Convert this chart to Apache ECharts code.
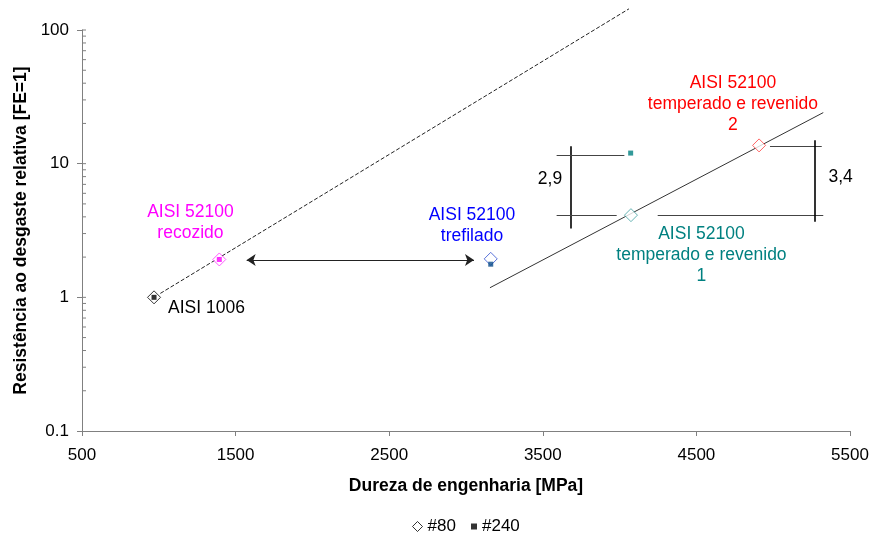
<!DOCTYPE html>
<html>
<head>
<meta charset="utf-8">
<script src="https://cdn.jsdelivr.net/npm/echarts@6/dist/echarts.min.js"></script>
<style>
  html, body { margin: 0; padding: 0; background: #fff; }
  #chart { width: 873px; height: 538px; }
</style>
</head>
<body>
<div id="chart"></div>
<script>
// valores
var hardness80 = [969, 1394, 3161, 4074, 4908];
var resist80 = [1.0, 1.92, 1.94, 4.12, 13.7];
var hardness240 = [969, 1394, 3161, 4072];
var resist240 = [1.0, 1.92, 1.77, 12.0];

// retas de tendência
var dashedFitX = [1010, 4061];
var dashedFitY = [1.07, 144];
var solidFitX = [3156, 5326];
var solidFitY = [1.18, 24.1];

// eixos
var xTicks = [500, 1500, 2500, 3500, 4500, 5500];
var yInnerTicks = [0.2, 0.3, 0.4, 0.5, 0.6, 0.7, 0.8, 0.9, 1,
  2, 3, 4, 5, 6, 7, 8, 9, 10, 20, 30, 40, 50, 60, 70, 80, 90, 100];

// cotas (2,9 e 3,4) e seta
var bracketX = [[3682, 3682], [3590, 4031], [3590, 3981], [4248, 5326], [4979, 5316], [5268, 5268]];
var bracketY = [[13.5, 3.28], [11.5, 11.5], [4.10, 4.10], [4.10, 4.10], [13.5, 13.5], [15.0, 3.67]];
var arrowX = [1572, 3052];
var arrowY = [1.90, 1.90];

// textos
var noteText = ['AISI 1006', 'AISI 52100\nrecozido', 'AISI 52100\ntrefilado',
  'AISI 52100\ntemperado e revenido\n1', 'AISI 52100\ntemperado e revenido\n2', '2,9', '3,4'];
var noteX = [1060, 1206, 3039, 4533, 4738, 3547, 5439];
var noteY = [0.836, 3.65, 3.44, 2.08, 27.8, 7.66, 7.93];

var noteColors = ['#000000', '#ff00ff', '#0000ff', '#008080', '#ff0000', '#000000', '#000000'];
var diamondColors = ['#000000', '#ff33ff', '#2f4fd0', '#40a0a0', '#ff4040'];
var squareColors = ['#000000', '#ff00ff', '#0b4c8a', '#008080'];

var FONT = '"Liberation Sans", Arial, sans-serif';

function pairs(xs, ys) {
  return xs.map(function (x, i) { return [x, ys[i]]; });
}

var chart = echarts.init(document.getElementById('chart'));
chart.setOption({
  animation: false,
  textStyle: { fontFamily: FONT },
  grid: { left: 82, right: 23, top: 30, bottom: 107 },
  legend: [
    {
      data: ['#80'], left: 407, top: 513, itemWidth: 10, itemHeight: 10, itemGap: 5,
      itemStyle: { borderWidth: 1 },
      textStyle: { fontSize: 17, color: '#000', fontFamily: FONT }
    },
    {
      data: ['#240'], left: 466, top: 513, itemWidth: 6, itemHeight: 6, itemGap: 5,
      textStyle: { fontSize: 17, color: '#000', fontFamily: FONT }
    }
  ],
  xAxis: {
    type: 'value', min: 500, max: 5500,
    name: 'Dureza de engenharia [MPa]', nameLocation: 'middle', nameGap: 46,
    nameTextStyle: { fontSize: 17.5, fontWeight: 'bold', color: '#000', fontFamily: FONT },
    axisLine: { lineStyle: { color: '#808080', width: 1 } },
    axisTick: { customValues: xTicks, length: 5, lineStyle: { color: '#808080' } },
    axisLabel: {
      customValues: xTicks, fontSize: 17, color: '#000', margin: 16,
      formatter: function (v) { return String(v); }
    },
    splitLine: { show: false }
  },
  yAxis: {
    type: 'log', logBase: 10, min: 0.1, max: 100,
    name: 'Resistência ao desgaste relativa [FE=1]', nameLocation: 'middle', nameGap: 52,
    nameTextStyle: { fontSize: 17.5, fontWeight: 'bold', color: '#000', fontFamily: FONT },
    axisLine: { lineStyle: { color: '#808080', width: 1 } },
    axisTick: { length: 5, lineStyle: { color: '#808080' } },
    axisLabel: {
      fontSize: 17, color: '#000', margin: 13,
      formatter: function (v) { return String(v); }
    },
    splitLine: { show: false }
  },
  series: [
    {
      name: 'minor', type: 'custom', silent: true, z: 1,
      data: yInnerTicks.map(function (v) { return [500, v]; }),
      renderItem: function (params, api) {
        var p = api.coord([api.value(0), api.value(1)]);
        return {
          type: 'line',
          shape: { x1: p[0], y1: p[1], x2: p[0] + 4, y2: p[1] },
          style: { stroke: '#808080', lineWidth: 1 }
        };
      }
    },
    {
      name: 'fit1', type: 'line', data: pairs(dashedFitX, dashedFitY), showSymbol: false,
      symbol: 'none', clip: false, silent: true,
      lineStyle: { color: '#222', width: 1, type: [4, 2] }
    },
    {
      name: 'fit2', type: 'line', data: pairs(solidFitX, solidFitY), showSymbol: false,
      symbol: 'none', clip: false, silent: true,
      lineStyle: { color: '#333', width: 1 }
    },
    {
      name: 'cotas', type: 'lines', coordinateSystem: 'cartesian2d', silent: true,
      data: bracketX.map(function (xs, i) {
        var vertical = xs[0] === xs[1];
        return {
          coords: pairs(xs, bracketY[i]),
          lineStyle: { color: vertical ? '#000' : '#444', width: vertical ? 1.6 : 1 }
        };
      }),
      lineStyle: { opacity: 1 }
    },
    {
      name: 'seta', type: 'lines', coordinateSystem: 'cartesian2d', silent: true,
      symbol: ['arrow', 'arrow'], symbolSize: 9,
      data: [{ coords: pairs(arrowX, arrowY) }],
      lineStyle: { color: '#222', width: 1, opacity: 1 }
    },
    {
      name: '#80', type: 'scatter', symbol: 'diamond', symbolSize: 13, z: 3,
      itemStyle: { color: '#fff', borderColor: '#000', borderWidth: 1 },
      data: hardness80.map(function (x, i) {
        return { value: [x, resist80[i]], itemStyle: { borderColor: diamondColors[i] } };
      })
    },
    {
      name: '#240', type: 'scatter', symbol: 'rect', symbolSize: 5, z: 4,
      itemStyle: { color: '#000' },
      data: hardness240.map(function (x, i) {
        return { value: [x, resist240[i]], itemStyle: { color: squareColors[i] } };
      })
    },
    {
      name: 'notas', type: 'custom', silent: true, z: 5,
      data: pairs(noteX, noteY),
      renderItem: function (params, api) {
        var i = params.dataIndex;
        var p = api.coord([api.value(0), api.value(1)]);
        return {
          type: 'text', x: p[0], y: p[1],
          style: {
            text: noteText[i], fill: noteColors[i],
            font: '17.5px ' + FONT,
            align: i === 0 ? 'left' : 'center', verticalAlign: 'middle', lineHeight: 21
          }
        };
      }
    }
  ]
});
</script>
</body>
</html>
